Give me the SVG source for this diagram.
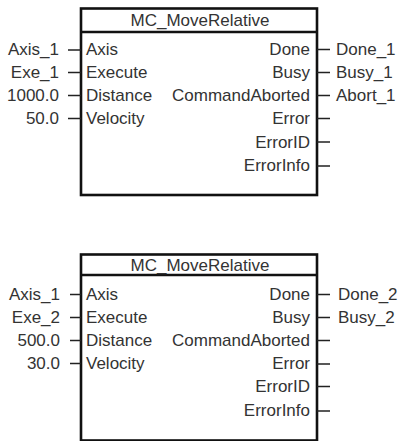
<svg xmlns="http://www.w3.org/2000/svg" width="398" height="441" viewBox="0 0 398 441">
<style>
.box{fill:#fff;stroke:#111;stroke-width:2.6}
.div{stroke:#111;stroke-width:2.4}
.stub{stroke:#222;stroke-width:1.6}
text{font-family:"Liberation Sans",Arial,sans-serif;font-size:17px;fill:#333;dominant-baseline:central}
.r{text-anchor:end}
.m{text-anchor:middle}
</style>
<g id="block1">
<rect class="box" x="81" y="8.5" width="236" height="186.5"/>
<line class="div" x1="81" y1="32" x2="317" y2="32"/>
<text class="m" x="200" y="20.5">MC_MoveRelative</text>
<text x="86" y="49.5">Axis</text>
<text x="86" y="72.5">Execute</text>
<text x="86" y="95.5">Distance</text>
<text x="86" y="118.5">Velocity</text>
<text class="r" x="310" y="49.5">Done</text>
<text class="r" x="310" y="72.5">Busy</text>
<text class="r" x="310" y="95.5">CommandAborted</text>
<text class="r" x="310" y="118.5">Error</text>
<text class="r" x="310" y="142">ErrorID</text>
<text class="r" x="310" y="165.5">ErrorInfo</text>
</g>
<g id="block2">
<rect class="box" x="81" y="254.5" width="236" height="186"/>
<line class="div" x1="81" y1="275" x2="317" y2="275"/>
<text class="m" x="200" y="265">MC_MoveRelative</text>
<text x="86" y="294.5">Axis</text>
<text x="86" y="317.5">Execute</text>
<text x="86" y="340.5">Distance</text>
<text x="86" y="363.5">Velocity</text>
<text class="r" x="310" y="294.5">Done</text>
<text class="r" x="310" y="317.5">Busy</text>
<text class="r" x="310" y="340.5">CommandAborted</text>
<text class="r" x="310" y="363.5">Error</text>
<text class="r" x="310" y="386.5">ErrorID</text>
<text class="r" x="310" y="410.5">ErrorInfo</text>
</g>
<g id="inputs1">
<text class="r" x="59" y="49.5">Axis_1</text>
<text class="r" x="59" y="72.5">Exe_1</text>
<text class="r" x="59" y="95.5">1000.0</text>
<text class="r" x="59" y="118.5">50.0</text>
</g>
<g id="outputs1">
<text x="336" y="49.5">Done_1</text>
<text x="336" y="72.5">Busy_1</text>
<text x="336" y="95.5">Abort_1</text>
</g>
<g id="inputs2">
<text class="r" x="60" y="294.5">Axis_1</text>
<text class="r" x="60" y="317.5">Exe_2</text>
<text class="r" x="60" y="340.5">500.0</text>
<text class="r" x="60" y="363.5">30.0</text>
</g>
<g id="outputs2">
<text x="338" y="294.5">Done_2</text>
<text x="338" y="317.5">Busy_2</text>
</g>
<g id="connectors">
<path class="stub" d="M68 50H81M68 72.5H81M68 95.5H81M68 118.5H81
M317 49.5H330M317 72.5H330M317 95.5H330M317 118.5H330M317 142H330M317 166H330
M70 294.5H81M70 317.5H81M70 340.5H81M70 363.5H81
M317 294.5H330M317 317.5H330M317 340.5H330M317 364H330M317 386.5H330M317 411H330"/>
</g>
</svg>
